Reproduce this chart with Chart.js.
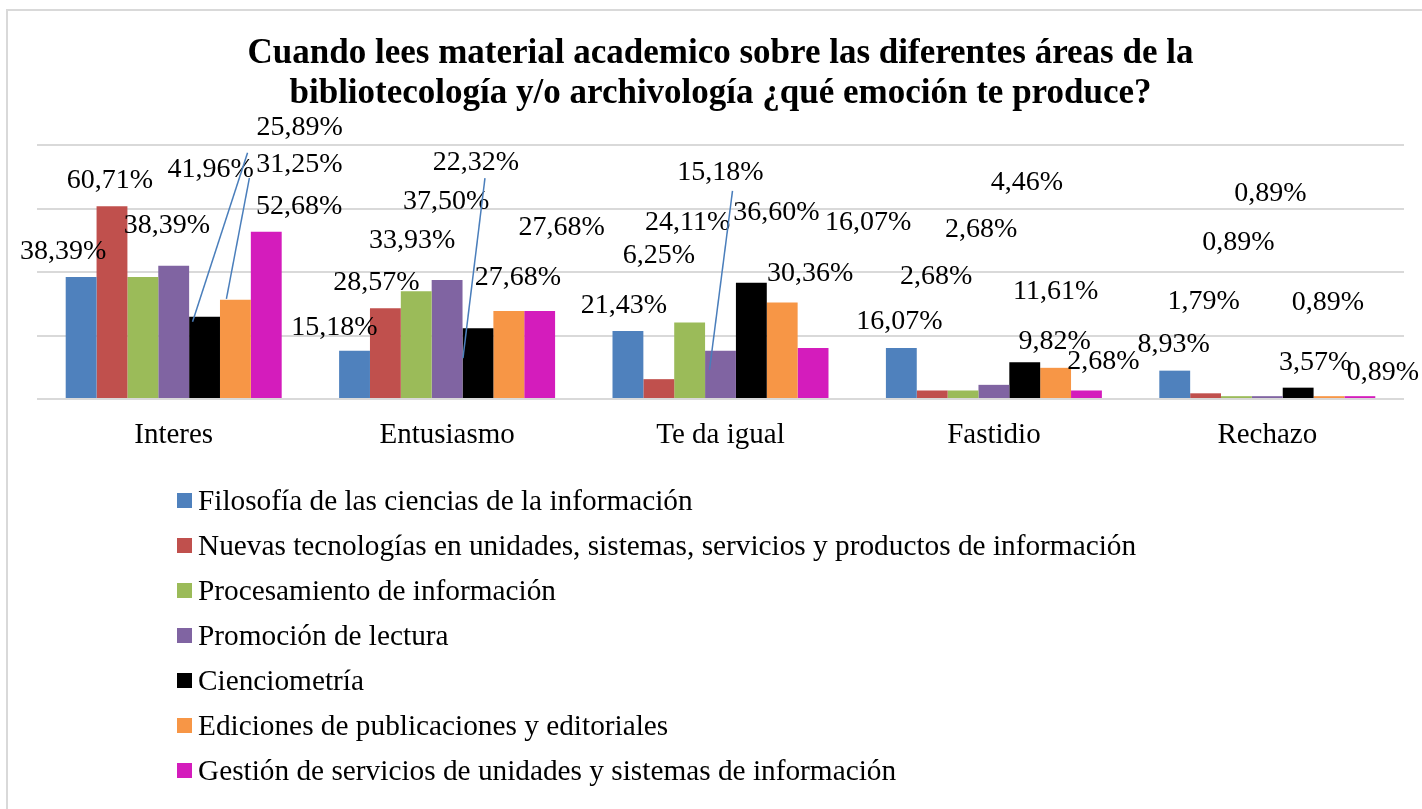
<!DOCTYPE html>
<html>
<head>
<meta charset="utf-8">
<script src="https://cdn.jsdelivr.net/npm/chart.js@4"></script>
<style>
  html, body { margin: 0; padding: 0; background: #fff; overflow: hidden; }
  #wrap { position: relative; width: 1422px; height: 809px; }
  #frame { position: absolute; left: 6px; top: 9px; width: 1500px; height: 900px; border: 2px solid #d9d9d9; pointer-events: none; }
</style>
</head>
<body>
<div id="wrap">
  <canvas id="chart" width="1422" height="809"></canvas>
  <div id="frame"></div>
</div>
<script>
// categories and series
const categories = ["Interes", "Entusiasmo", "Te da igual", "Fastidio", "Rechazo"];
const seriesNames = [
  "Filosofía de las ciencias de la información",
  "Nuevas tecnologías en unidades, sistemas, servicios y productos de información",
  "Procesamiento de información",
  "Promoción de lectura",
  "Cienciometría",
  "Ediciones de publicaciones y editoriales",
  "Gestión de servicios de unidades y sistemas de información"
];
const filosofia = [38.39, 15.18, 21.43, 16.07, 8.93];
const nuevasTecnologias = [60.71, 28.57, 6.25, 2.68, 1.79];
const procesamiento = [38.39, 33.93, 24.11, 2.68, 0.89];
const promocion = [41.96, 37.50, 15.18, 4.46, 0.89];
const cienciometria = [25.89, 22.32, 36.60, 11.61, 3.57];
const ediciones = [31.25, 27.68, 30.36, 9.82, 0.89];
const gestion = [52.68, 27.68, 16.07, 2.68, 0.89];
const yTicks = [0, 20, 40, 60, 80];

const seriesValues = [filosofia, nuevasTecnologias, procesamiento, promocion, cienciometria, ediciones, gestion];
const colors = ["#4f81bd", "#c0504d", "#9bbb59", "#8064a2", "#000000", "#f79646", "#d41cbc"];

const FONT = '"Liberation Serif", "Times New Roman", serif';

// where Excel left each data label, relative to the top centre of its bar [dx, dy]
const labelShift = [
  [[-18, -18], [-20, -16], [-4, -18], [-2, -19], [-1, -19]],
  [[-2, -18], [-9, -18], [0, -116], [4, -106], [-2, -84]],
  [[24, -44], [-4, -43], [-2, -92], [18, -153], [2, -146]],
  [[37, -89], [-1, -71], [0, -171], [33, -195], [3, -195]],
  [[95, -182], [-2, -158], [25, -63], [31, -63], [17, -18]],
  [[64, -128], [9, -26], [28, -22], [-1, -19], [-1, -86]],
  [[33, -18], [22, -76], [55, -118], [17, -21], [23, -16]]
];
// leader lines: from label anchor offset to bar top offset
const leaders = [
  { s: 4, c: 0, from: [-52, 18], to: [-12, 5] },
  { s: 5, c: 0, from: [-50, 6], to: [-9, -1] },
  { s: 4, c: 1, from: [9, 8], to: [-15, 30] },
  { s: 3, c: 2, from: [12, 11], to: [-11, 19] }
];

const fmt = v => v.toFixed(2).replace(".", ",") + "%";

const dataLabels = {
  id: "dataLabels",
  afterDatasetsDraw(chart) {
    const ctx = chart.ctx;
    ctx.save();
    ctx.font = "28px " + FONT;
    ctx.fillStyle = "#000";
    ctx.textAlign = "center";
    ctx.textBaseline = "alphabetic";
    chart.data.datasets.forEach((ds, s) => {
      chart.getDatasetMeta(s).data.forEach((bar, c) => {
        const [dx, dy] = labelShift[s][c];
        ctx.fillText(fmt(ds.data[c]), bar.x + dx, bar.y + dy);
      });
    });
    ctx.strokeStyle = "#4a7ebb";
    ctx.lineWidth = 1.5;
    leaders.forEach(l => {
      const bar = chart.getDatasetMeta(l.s).data[l.c];
      const [ldx, ldy] = labelShift[l.s][l.c];
      ctx.beginPath();
      ctx.moveTo(bar.x + ldx + l.from[0], bar.y + ldy + l.from[1]);
      ctx.lineTo(bar.x + l.to[0], bar.y + l.to[1]);
      ctx.stroke();
    });
    ctx.restore();
  }
};

const listLegend = {
  id: "listLegend",
  afterDraw(chart) {
    const ctx = chart.ctx;
    ctx.save();
    ctx.font = "29.3px " + FONT;
    ctx.textAlign = "left";
    ctx.textBaseline = "alphabetic";
    chart.data.datasets.forEach((ds, i) => {
      const base = 510 + 45 * i;
      ctx.fillStyle = ds.backgroundColor;
      ctx.fillRect(177, base - 17, 15, 15);
      ctx.fillStyle = "#000";
      ctx.fillText(ds.label, 198, base);
    });
    ctx.restore();
  }
};

new Chart(document.getElementById("chart"), {
  type: "bar",
  data: {
    labels: categories,
    datasets: seriesNames.map((name, i) => ({
      label: name,
      data: seriesValues[i],
      backgroundColor: colors[i],
      borderWidth: 0,
      categoryPercentage: 0.79,
      barPercentage: 1.0
    }))
  },
  options: {
    responsive: false,
    animation: false,
    devicePixelRatio: 1,
    layout: { padding: { left: 37, right: 18, top: 0, bottom: 330 } },
    plugins: {
      legend: { display: false },
      tooltip: { enabled: false },
      title: {
        display: true,
        text: [
          "Cuando lees material academico sobre las diferentes áreas de la",
          "bibliotecología y/o archivología ¿qué emoción te produce?"
        ],
        color: "#000",
        font: { family: FONT, size: 35, weight: "bold", lineHeight: 1.143 },
        padding: { top: 33.5, bottom: 31.5 }
      }
    },
    scales: {
      x: {
        grid: { display: false },
        border: { display: false },
        ticks: { color: "#000", font: { family: FONT, size: 29 }, padding: 11, maxRotation: 0 },
        afterFit(scale) { scale.height = 80; }
      },
      y: {
        min: yTicks[0],
        max: yTicks[yTicks.length - 1],
        afterBuildTicks(scale) { scale.ticks = yTicks.map(v => ({ value: v })); },
        grid: { color: "#d9d9d9", lineWidth: 2, drawTicks: false },
        border: { display: false },
        ticks: { display: false },
        afterFit(scale) { scale.width = 0; }
      }
    }
  },
  plugins: [dataLabels, listLegend]
});
</script>
</body>
</html>
